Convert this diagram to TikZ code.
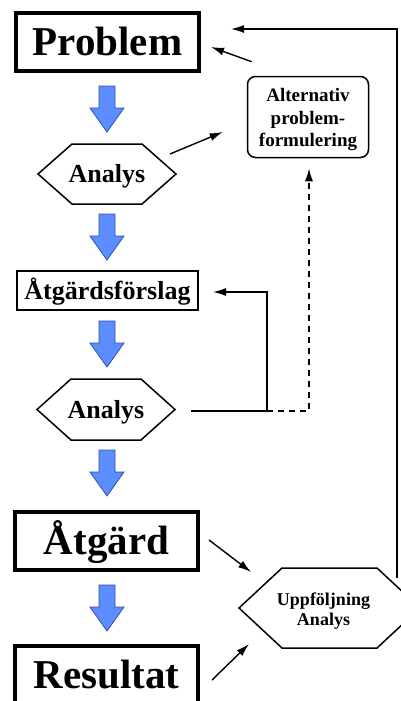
\documentclass[tikz,border=0pt]{standalone}
\usepackage{fontspec}
\setmainfont{Liberation Serif}
\usetikzlibrary{arrows.meta,calc}
\definecolor{fatblue}{RGB}{92,142,255}
\definecolor{fatedge}{RGB}{50,80,170}
\tikzset{
 bigbox/.style={draw, line width=4pt, minimum width=183pt, minimum height=58pt, inner sep=0pt, font=\bfseries\fontsize{41}{41}\selectfont, text height=27pt, text depth=0pt},
 midbox/.style={draw, line width=2pt, minimum width=181pt, minimum height=39pt, inner sep=0pt, font=\bfseries\fontsize{26}{26}\selectfont, text height=17.2pt, text depth=0pt},
 roundbox/.style={draw, line width=1.5pt, rounded corners=8pt, minimum width=121pt, minimum height=81pt, inner sep=0pt, align=center, font=\bfseries\fontsize{19}{22.5}\selectfont},
 hexnode/.style={inner sep=0pt, outer sep=0pt},
 hexline/.style={line width=1.5pt, line join=miter},
 conn/.style={line width=1.4pt, -{Latex[length=13pt,width=8pt]}},
 fat/.style={fill=fatblue, draw=fatedge, line width=0.8pt, line join=miter},
}
\newcommand\hexdraw[2]{\draw[hexline] (#1.west) -- ([xshift=#2]#1.north west) -- ([xshift=-#2]#1.north east) -- (#1.east) -- ([xshift=-#2]#1.south east) -- ([xshift=#2]#1.south west) -- cycle;}
\newcommand\fatarrow[2]{\draw[fat] (#1,#2) ++(-8,0) -- ++(16,0) -- ++(0,22) -- ++(9,0) -- ++(-17,24) -- ++(-17,-24) -- ++(9,0) -- cycle;}
\begin{document}
\begin{tikzpicture}[x=1pt,y=-1pt]
\path[use as bounding box, clip] (0,0) rectangle (401,701);
\fill[white] (0,0) rectangle (401,701);
% main column
\node[bigbox] (problem) at (107.5,42) {Problem};
\node[hexnode, minimum width=138pt, minimum height=60pt, font=\bfseries\fontsize{26}{26}\selectfont, text height=17.2pt, text depth=0pt] (an1) at (107,174) {Analys};
\hexdraw{an1}{34pt}
\node[midbox] (forslag) at (107.5,290.5) {Åtgärdsförslag};
\node[hexnode, minimum width=138pt, minimum height=61pt, font=\bfseries\fontsize{26}{26}\selectfont, text height=17.2pt, text depth=0pt] (an2) at (106,409.5) {Analys};
\hexdraw{an2}{34pt}
\node[bigbox] (atgard) at (106.5,541) {Åtgärd};
\node[bigbox] (resultat) at (106.5,675) {Resultat};
% side column
\node[roundbox] (alt) at (308,117) {\rule{0pt}{19pt}Alternativ\\problem-\\formulering};
\node[hexnode, minimum width=181pt, minimum height=80pt, align=center, font=\bfseries\fontsize{18}{20}\selectfont] (uppf) at (329.5,608) {\rule{0pt}{18pt}Uppföljning\hspace*{12pt}\\Analys\hspace*{12pt}};
\hexdraw{uppf}{43pt}
% fat arrows
\fatarrow{107}{86}
\fatarrow{107}{214}
\fatarrow{107}{321}
\fatarrow{107}{450}
\fatarrow{107}{585}
% connectors
\draw[conn] ($(an1.east)+(-6,-20)$) -- ($(alt.west)+(-24,15)$);
\draw[conn] ($(alt.north west)+(5,-14)$) -- ($(problem.east)+(10,5)$);
\coordinate (fb) at (397,578);
\coordinate (fbtop) at (397,29);
\draw[conn] (fb) -- (fbtop) -- ($(problem.east)+(30,-13)$);
\coordinate (j) at (267,411);
\draw[conn] ($(an2.east)+(16,1.5)$) -- (j) |- ($(forslag.east)+(14,1.5)$);
\draw[conn, dash pattern=on 6pt off 5pt] (j) -| ($(alt.south)+(1,10)$);
\draw[conn] ($(atgard.east)+(9,-1)$) -- ($(uppf.north west)+(12,4)$);
\draw[conn] ($(resultat.east)+(12,5)$) -- ($(uppf.south west)+(10,-4)$);
\end{tikzpicture}
\end{document}
